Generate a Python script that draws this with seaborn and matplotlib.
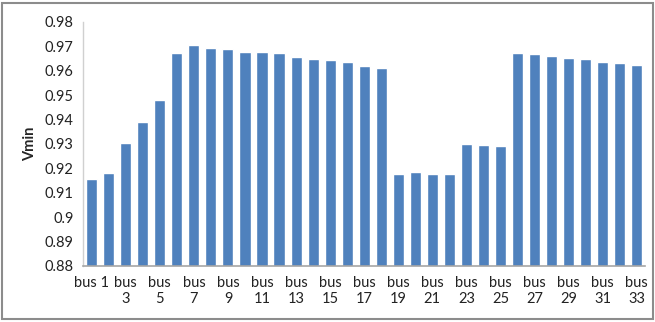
import matplotlib
matplotlib.use("Agg")
import matplotlib.pyplot as plt
from matplotlib.patches import Rectangle
import seaborn as sns
import pandas as pd

buses = [f"bus {i}" for i in range(1, 34)]
vmin = [0.9155, 0.9180, 0.9303, 0.9390, 0.9480, 0.9674, 0.9704, 0.9695,
        0.9688, 0.9678, 0.9678, 0.9673, 0.9658, 0.9647, 0.9643, 0.9637,
        0.9618, 0.9612, 0.9178, 0.9184, 0.9178, 0.9178, 0.9299, 0.9296,
        0.9293, 0.9673, 0.9670, 0.9661, 0.9652, 0.9647, 0.9636, 0.9633,
        0.9624]
tick_labels = ["bus 1"] + [f"bus\n{i}" if i % 2 == 1 else "" for i in range(2, 34)]
y_ticks = [0.88, 0.89, 0.90, 0.91, 0.92, 0.93, 0.94, 0.95, 0.96, 0.97, 0.98]
y_tick_labels = ["0.88", "0.89", "0.9", "0.91", "0.92", "0.93", "0.94",
                 "0.95", "0.96", "0.97", "0.98"]

df = pd.DataFrame({"bus": buses, "Vmin": vmin})

sns.set_theme(style="white")
plt.rcParams["font.family"] = ["Lato", "DejaVu Sans"]

fig = plt.figure(figsize=(6.55, 3.22), dpi=100)
ax = fig.add_axes([0.127, 0.174, 0.858, 0.758])

sns.barplot(data=df, x="bus", y="Vmin", color="#4F81BD", saturation=1,
            width=0.65, ax=ax)

ax.set_ylim(0.88, 0.98)
ax.set_xlim(-0.5, len(buses) - 0.5)
ax.set_yticks(y_ticks)
ax.set_yticklabels(y_tick_labels, fontsize=10.5, color="#222222")
ax.set_xticks(range(len(buses)))
ax.set_xticklabels(tick_labels, fontsize=10.5, color="#222222", linespacing=1.2)
ax.tick_params(axis="both", length=0, pad=7)
ax.set_xlabel("")
ax.set_ylabel("Vmin", fontsize=10.5, fontweight="bold", labelpad=5)

for side in ("top", "right"):
    ax.spines[side].set_visible(False)
ax.spines["left"].set_color("#d0d0d0")
ax.spines["left"].set_linewidth(1.0)
ax.spines["bottom"].set_color("#a6a6a6")
ax.spines["bottom"].set_linewidth(1.2)

fig.patches.append(Rectangle((0.003, 0.008), 0.994, 0.984, transform=fig.transFigure,
                             fill=False, edgecolor="#8c8c8c", linewidth=1.5))

fig.savefig("out.png", dpi=100)
